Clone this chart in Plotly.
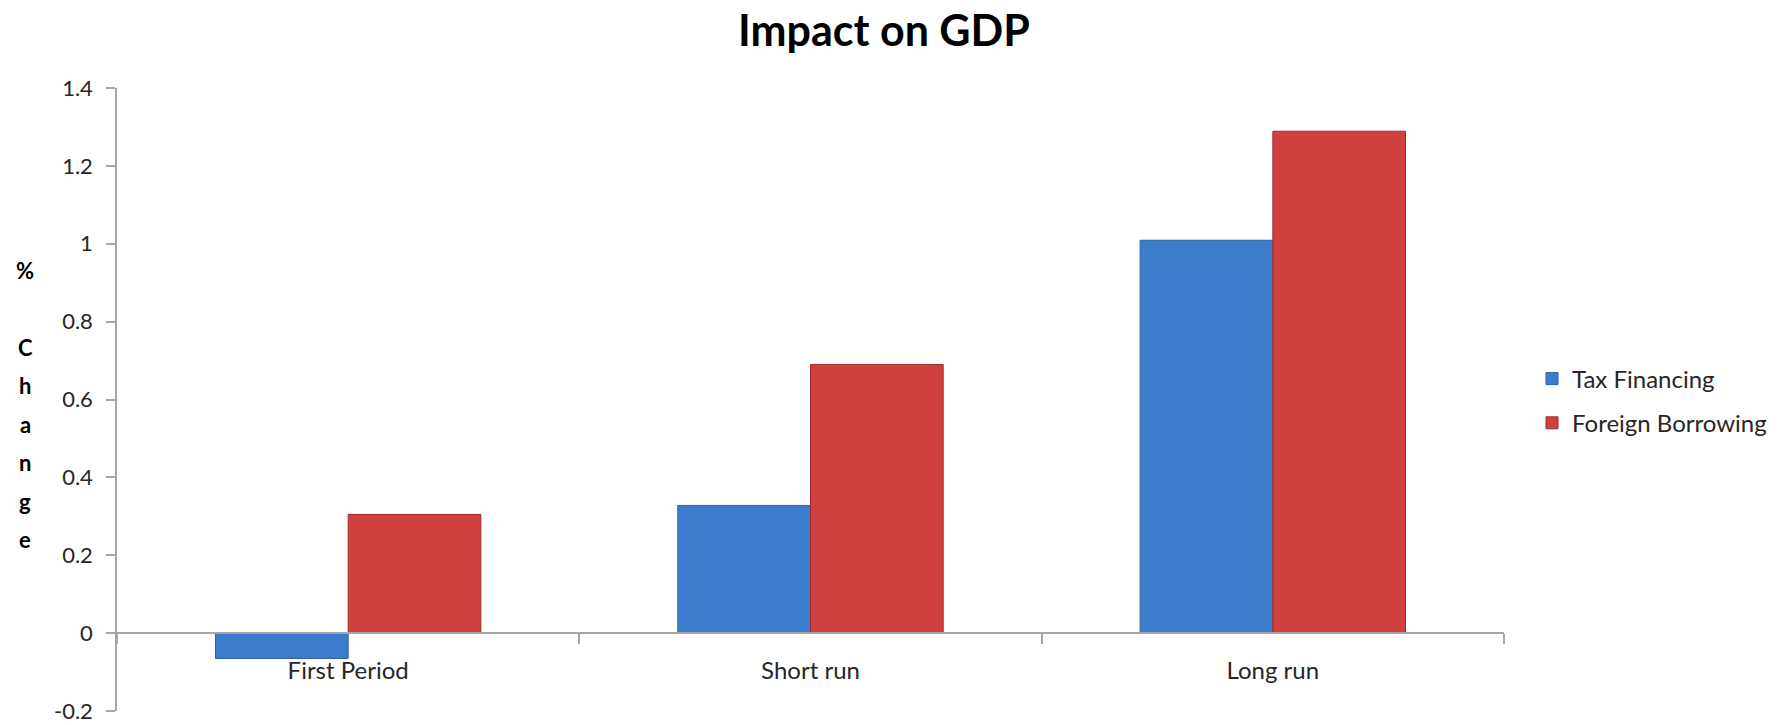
import plotly.graph_objects as go

# Chart data
periods = ["First Period", "Short run", "Long run"]
tax_financing = [-0.065, 0.328, 1.009]
foreign_borrowing = [0.305, 0.690, 1.289]
y_ticks = [-0.2, 0, 0.2, 0.4, 0.6, 0.8, 1, 1.2, 1.4]
y_tick_text = ["-0.2", "0", "0.2", "0.4", "0.6", "0.8", "1", "1.2", "1.4"]
axis_title_chars = ["%", "", "C", "h", "a", "n", "g", "e"]

W, H = 1787, 725
M_L, M_R, M_T, M_B = 117, 283, 88, 14
FONT = "Lato"
TEXT = "#262626"
AXIS = "#a6a6a6"

fig = go.Figure()
fig.add_trace(go.Bar(
    name="Tax Financing", x=periods, y=tax_financing,
    marker=dict(color="#3c7ccc", line=dict(color="#2d5f9e", width=1)),
    legendgroup="a",
))
fig.add_trace(go.Bar(
    name="Foreign Borrowing", x=periods, y=foreign_borrowing,
    marker=dict(color="#d13f3f", line=dict(color="#9e2e2e", width=1)),
    legendgroup="b",
))

plot_h = H - M_T - M_B
y_min, y_max = -0.2, 1.4
zero_pos = (0 - y_min) / (y_max - y_min)

fig.update_layout(
    width=W, height=H,
    margin=dict(l=M_L, r=M_R, t=M_T, b=M_B, pad=0, autoexpand=False),
    paper_bgcolor="white", plot_bgcolor="white",
    font=dict(family=FONT, color=TEXT, size=22),
    title=dict(
        text="<b>Impact on GDP</b>", x=884 / W, xanchor="center",
        y=1 - 31 / H, yanchor="middle", yref="container",
        font=dict(family=FONT, size=43, color="black"),
    ),
    barmode="group", bargap=0.426, bargroupgap=0,
    showlegend=True,
    legend=dict(
        x=(1532 - M_L) / (W - M_L - M_R), xanchor="left",
        y=(H - M_B - 401) / plot_h, yanchor="middle",
        font=dict(family=FONT, size=24, color=TEXT),
        tracegroupgap=10, traceorder="grouped",
        bgcolor="rgba(0,0,0,0)",
    ),
    xaxis=dict(
        anchor="free", position=zero_pos, automargin=False,
        showline=True, linecolor=AXIS, linewidth=1.5,
        ticks="outside", ticklen=10, tickcolor=AXIS, tickwidth=1.5,
        tickson="boundaries", showgrid=False, zeroline=False,
        tickfont=dict(family=FONT, size=24, color=TEXT),
        ticklabelstandoff=16,
    ),
    yaxis=dict(
        range=[y_min, y_max], tickvals=y_ticks, ticktext=y_tick_text,
        automargin=False,
        showline=True, linecolor=AXIS, linewidth=1.5,
        ticks="outside", ticklen=9, tickcolor=AXIS, tickwidth=1.5,
        showgrid=False, zeroline=False,
        tickfont=dict(family=FONT, size=22, color=TEXT),
        ticklabelstandoff=9, ticklabeloverflow="allow",
    ),
)

# Vertical axis title, one character per line
first_y, step = 270, 38.5
for i, ch in enumerate(axis_title_chars):
    if not ch:
        continue
    fig.add_annotation(
        text=f"<b>{ch}</b>", xref="paper", yref="paper",
        x=(25 - M_L) / (W - M_L - M_R), xanchor="center",
        y=(H - M_B - (first_y + i * step)) / plot_h, yanchor="middle",
        showarrow=False, font=dict(family=FONT, size=22, color="black"),
    )

fig.write_html("out.html")
